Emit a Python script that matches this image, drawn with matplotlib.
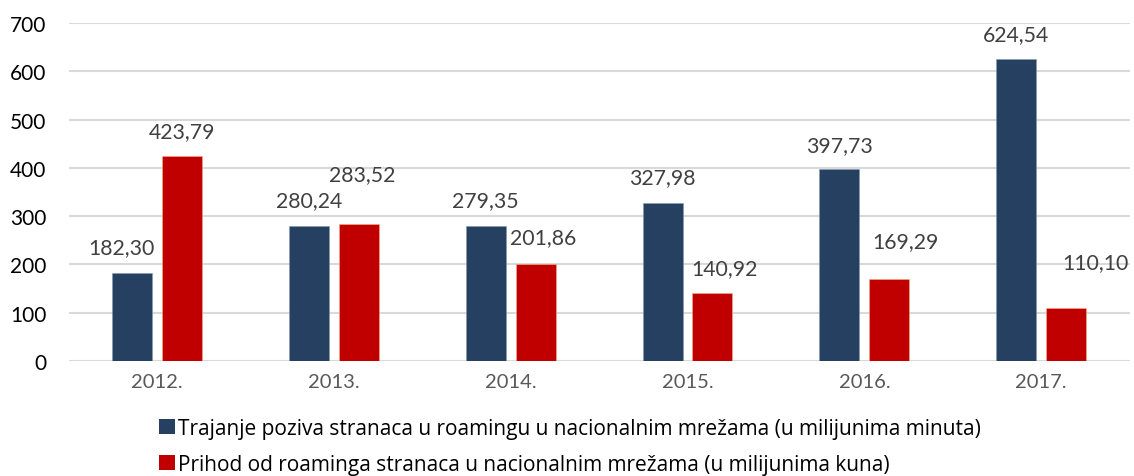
import matplotlib
matplotlib.use("Agg")
import matplotlib.pyplot as plt
from matplotlib.patches import Patch
import numpy as np

plt.rcParams['font.family'] = ['Lato', 'DejaVu Sans']

years = ["2012.", "2013.", "2014.", "2015.", "2016.", "2017."]
trajanje = [182.30, 280.24, 279.35, 327.98, 397.73, 624.54]
prihod = [423.79, 283.52, 201.86, 140.92, 169.29, 110.10]
series_names = [
    "Trajanje poziva stranaca u roamingu u nacionalnim mrežama (u milijunima minuta)",
    "Prihod od roaminga stranaca u nacionalnim mrežama (u milijunima kuna)",
]
yticks = [0, 100, 200, 300, 400, 500, 600, 700]

# label placement tweaks (style): (dx in category units, y above bar top in data units)
blue_lbl_off = [(-0.06, 54), (0.0, 52), (0.0, 53), (0.0, 53), (0.0, 50), (0.0, 53)]
red_lbl_off = [(0.0, 52), (0.02, 104), (0.045, 55), (0.07, 52), (0.09, 80), (0.165, 95)]

BLUE = "#264061"
RED = "#C00000"

fig = plt.figure(figsize=(11.34, 4.77), dpi=100)
ax = fig.add_axes([68.6 / 1134, 1 - 362 / 477, 1061 / 1134, (362 - 24) / 477])

x = np.arange(len(years))
w = 0.226
off = 0.141
ax.bar(x - off, trajanje, width=w, color=BLUE, edgecolor="#8497B0", linewidth=0.4, zorder=3)
ax.bar(x + off, prihod, width=w, color=RED, edgecolor="#F4B183", linewidth=0.4, zorder=3)

def fmt(v):
    return f"{v:.2f}".replace(".", ",")

for i, v in enumerate(trajanje):
    dx, dy = blue_lbl_off[i]
    ax.text(x[i] - off + dx, v + dy, fmt(v), ha="center", va="center",
            fontsize=15.3, color="#404040", zorder=4)
for i, v in enumerate(prihod):
    dx, dy = red_lbl_off[i]
    ax.text(x[i] + off + dx, v + dy, fmt(v), ha="center", va="center",
            fontsize=15.3, color="#404040", zorder=4)

ax.set_xlim(-0.5, len(years) - 0.5)
ax.set_ylim(0, 700)
ax.set_yticks(yticks)
ax.set_yticklabels([str(t) for t in yticks], fontsize=15, color="#000000")
ax.set_xticks(x)
ax.set_xticklabels(years, fontsize=14.5, color="#595959")
ax.tick_params(axis="both", length=0)
ax.tick_params(axis="y", pad=16)
ax.tick_params(axis="x", pad=9)
ax.grid(axis="y", color="#D9D9D9", linewidth=1.5, zorder=0)
for s in ax.spines.values():
    s.set_visible(False)

handles = [Patch(facecolor=BLUE), Patch(facecolor=RED)]
fig.legend(handles, series_names, loc="upper left",
           bbox_to_anchor=(159 / 1134, 1 - 419 / 477), frameon=False,
           prop={"family": ["Open Sans", "DejaVu Sans"], "size": 15},
           handlelength=0.75, handleheight=0.75,
           handletextpad=0.15, labelspacing=0.7, borderaxespad=0, borderpad=0)

fig.savefig("out.png", dpi=100)
